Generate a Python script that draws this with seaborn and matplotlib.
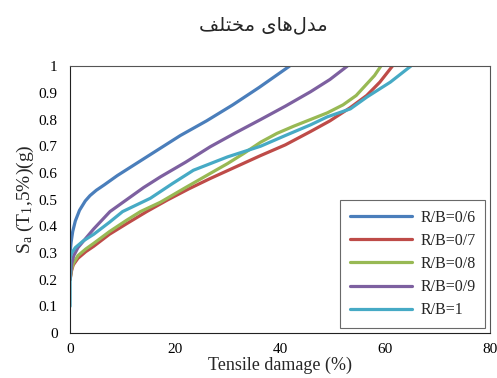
import matplotlib
matplotlib.use("Agg")
import matplotlib.pyplot as plt
import seaborn as sns
import pandas as pd

# --- data (x = tensile damage %, y = Sa in g) ---
labels = ["R/B=0/6", "R/B=0/7", "R/B=0/8", "R/B=0/9", "R/B=1"]
colors = ["#4A7EBB", "#BE4B48", "#98B954", "#7D60A0", "#46AAC5"]

x_06 = [0, 0.2, 0.5, 1, 1.8, 2.9, 3.8, 5, 6.5, 9, 13, 17, 21, 26, 31, 36, 41.8]
y_06 = [0.30, 0.34, 0.38, 0.42, 0.46, 0.495, 0.515, 0.535, 0.555, 0.59, 0.64, 0.69, 0.74, 0.795, 0.855, 0.92, 1.0]

x_07 = [0, 0.3, 0.6, 1.5, 3, 4.5, 7.5, 10.8, 14.6, 18.5, 22.6, 26.7, 31.5, 36.3, 41, 45.8, 49.5, 53.4, 56.5, 59, 61.4]
y_07 = [0.20, 0.235, 0.255, 0.28, 0.305, 0.325, 0.37, 0.41, 0.455, 0.498, 0.54, 0.579, 0.622, 0.665, 0.705, 0.755, 0.795, 0.845, 0.89, 0.94, 1.0]

x_08 = [0, 0.3, 0.6, 1.5, 3, 4.5, 7.5, 10.8, 13.4, 17.2, 22, 26.7, 30, 33.1, 36.3, 39.4, 42.6, 45.8, 49, 52, 54.5, 56.6, 58, 59.2]
y_08 = [0.20, 0.24, 0.26, 0.29, 0.315, 0.336, 0.38, 0.423, 0.455, 0.49, 0.545, 0.598, 0.635, 0.673, 0.715, 0.748, 0.775, 0.80, 0.825, 0.855, 0.89, 0.935, 0.965, 1.0]

x_09 = [0, 0.3, 0.7, 1.5, 3, 4.5, 7.6, 10.8, 14, 17.2, 22, 26.7, 31.5, 36.3, 41, 45.8, 49.5, 52.8]
y_09 = [0.20, 0.26, 0.29, 0.32, 0.355, 0.39, 0.455, 0.50, 0.545, 0.585, 0.64, 0.698, 0.75, 0.80, 0.85, 0.904, 0.95, 1.0]

x_10 = [0, 0, 0.3, 1, 2.5, 4.5, 7.5, 10, 15.3, 19.5, 23.5, 30, 36.3, 41, 45.8, 49, 53.4, 56.6, 61, 64.9]
y_10 = [0.10, 0.28, 0.30, 0.32, 0.345, 0.37, 0.415, 0.455, 0.505, 0.56, 0.61, 0.66, 0.70, 0.74, 0.78, 0.81, 0.84, 0.885, 0.94, 1.0]

xs = [x_06, x_07, x_08, x_09, x_10]
ys = [y_06, y_07, y_08, y_09, y_10]

x_ticks = [0, 20, 40, 60, 80]
y_ticks = [0, 0.1, 0.2, 0.3, 0.4, 0.5, 0.6, 0.7, 0.8, 0.9, 1]

# Persian title "مدل‌های مختلف" in presentation forms, visual order
title_fa = "\uFED2\uFEE0\uFE98\uFEA8\uFEE3 \uFEEF\uFE8E\uFEEB\uFEDD\uFEAA\uFEE3"

sns.set_style("white")
plt.rcParams.update({
    "font.family": ["Liberation Serif", "DejaVu Sans"],
    "mathtext.fontset": "custom",
    "mathtext.rm": "Liberation Serif",
    "mathtext.it": "Liberation Serif:italic",
    "axes.edgecolor": "#222222",
})

fig = plt.figure(figsize=(4.97, 3.78), dpi=100)
ax = fig.add_axes([0.141, 0.119, 0.845, 0.706])

for lab, col, x, y in zip(labels, colors, xs, ys):
    d = pd.DataFrame({"x": x, "y": y})
    sns.lineplot(data=d, x="x", y="y", sort=False, color=col, lw=2.3,
                 label=lab, ax=ax, estimator=None)

ax.set_xlim(0, 80)
ax.set_ylim(0, 1)
ax.set_xticks(x_ticks)
ax.set_yticks(y_ticks)
ax.set_yticklabels([("%g" % v) for v in y_ticks])
ax.tick_params(axis="both", direction="out", length=4, width=0.8,
               labelsize=11, colors="#222222", labelcolor="black", pad=3)
ax.tick_params(axis="y", pad=5)
for s in ax.spines.values():
    s.set_linewidth(0.8)
ax.spines["top"].set_color("#555555")
ax.spines["right"].set_color("#555555")

ax.set_xlabel("Tensile damage (%)", fontsize=13, labelpad=0.5)
ax.set_ylabel(r"S$_{\mathrm{a}}$ (T$_{1}$,5%)(g)", fontsize=14, labelpad=2)

leg = ax.legend(loc="lower right", bbox_to_anchor=(0.988, 0.019),
                borderaxespad=0, fontsize=11.5, frameon=True, fancybox=False,
                edgecolor="#444444", handlelength=3.9, labelspacing=0.45,
                borderpad=0.6, handletextpad=0.5)
leg.get_frame().set_linewidth(0.8)
for ln in leg.get_lines():
    ln.set_linewidth(2.3)

fig.text(0.53, 0.934, title_fa, ha="center", va="center", fontsize=14,
         family=["DejaVu Sans"])

fig.savefig("out.png", dpi=100)
